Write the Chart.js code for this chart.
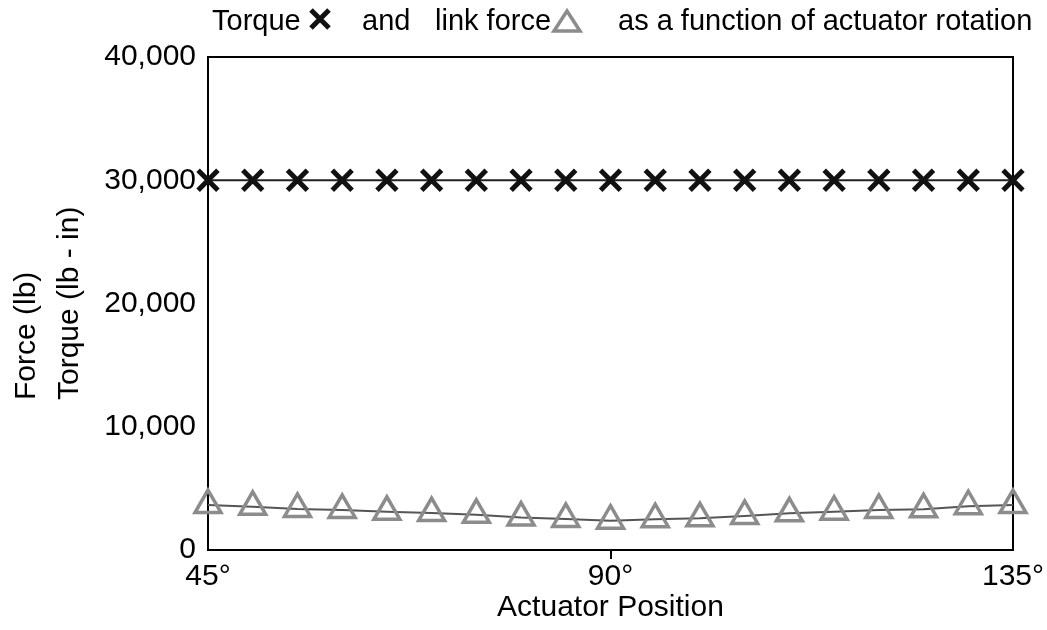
<!DOCTYPE html>
<html>
<head>
<meta charset="utf-8">
<script src="https://cdn.jsdelivr.net/npm/chart.js@4"></script>
<style>
  html, body { margin: 0; padding: 0; background: #fff; }
  #wrap { width: 1047px; height: 630px; }
</style>
</head>
<body>
<div id="wrap"><canvas id="chart"></canvas></div>
<script>
// actuator position in degrees
const positions = [45, 50, 55, 60, 65, 70, 75, 80, 85, 90, 95, 100, 105, 110, 115, 120, 125, 130, 135];
// torque (lb - in)
const torque = [30000, 30000, 30000, 30000, 30000, 30000, 30000, 30000, 30000, 30000,
                30000, 30000, 30000, 30000, 30000, 30000, 30000, 30000, 30000];
// link force (lb)
const linkForce = [3650, 3500, 3330, 3250, 3100, 3000, 2850, 2630, 2520, 2380,
                   2500, 2570, 2760, 2980, 3110, 3250, 3300, 3550, 3650];
const xTicks = [45, 90, 135];
const yTicks = [0, 10000, 20000, 30000, 40000];

const FONT = "'Liberation Sans', Arial, sans-serif";

// title line with the marker glyphs drawn inline
const titlePlugin = {
    id: "titleRuns",
    afterDraw(chart) {
        const c = chart.ctx;
        c.save();
        c.font = "29px " + FONT;
        c.textBaseline = "alphabetic";
        c.textAlign = "left";
        c.fillStyle = "#000";
        const y = 30;
        c.fillText("Torque", 212, y);
        c.strokeStyle = "#111";
        c.lineWidth = 5;
        c.beginPath();
        c.moveTo(311, 10); c.lineTo(329, 28);
        c.moveTo(329, 10); c.lineTo(311, 28);
        c.stroke();
        c.fillText("and", 362, y);
        c.fillText("link force", 435, y);
        c.strokeStyle = "#8c8c8c";
        c.lineWidth = 3.5;
        c.beginPath();
        c.moveTo(567, 11); c.lineTo(580, 31); c.lineTo(554, 31); c.closePath();
        c.stroke();
        c.fillText("as a function of actuator rotation", 618, y);

        // y axis title, two lines starting at the same height
        c.font = "30px " + FONT;
        [["Force (lb)", 35], ["Torque (lb - in)", 78]].forEach(([t, bx]) => {
            c.save();
            c.translate(bx, 400);
            c.rotate(-Math.PI / 2);
            c.fillText(t, 0, 0);
            c.restore();
        });
        c.restore();
    }
};

// closing box around the plot area
const boxPlugin = {
    id: "box",
    beforeDatasetsDraw(chart) {
        const a = chart.chartArea, c = chart.ctx;
        c.save();
        c.strokeStyle = "#000";
        c.lineWidth = 2;
        c.strokeRect(a.left, a.top, a.right - a.left, a.bottom - a.top);
        c.restore();
    }
};

new Chart(document.getElementById("chart"), {
    type: "line",
    data: {
        datasets: [
            {
                label: "Torque",
                data: positions.map((p, i) => ({ x: p, y: torque[i] })),
                borderColor: "#222",
                borderWidth: 2,
                pointStyle: "crossRot",
                pointRadius: 14,
                pointBorderWidth: 5,
                pointBorderColor: "#111",
                clip: false
            },
            {
                label: "Link force",
                data: positions.map((p, i) => ({ x: p, y: linkForce[i] })),
                borderColor: "#555",
                borderWidth: 2,
                pointStyle: "triangle",
                pointRadius: 15,
                pointBorderWidth: 3.5,
                pointBorderColor: "#8c8c8c",
                pointBackgroundColor: "rgba(255,255,255,0)",
                clip: false
            }
        ]
    },
    options: {
        responsive: true,
        maintainAspectRatio: false,
        animation: false,
        layout: { padding: { top: 57, right: 34, left: 0, bottom: 4 } },
        plugins: {
            legend: { display: false },
            tooltip: { enabled: false }
        },
        scales: {
            x: {
                type: "linear",
                min: 45,
                max: 135,
                afterBuildTicks: (axis) => { axis.ticks = xTicks.map(v => ({ value: v })); },
                afterFit: (axis) => { axis.height = 76; },
                ticks: {
                    color: "#000",
                    font: { family: FONT, size: 30 },
                    padding: 0,
                    maxRotation: 0,
                    callback: (v) => v + "°"
                },
                grid: {
                    display: true,
                    drawOnChartArea: false,
                    tickLength: 9,
                    lineWidth: 2,
                    color: (ctx) => (ctx.tick && ctx.tick.value === 90 ? "#000" : "rgba(0,0,0,0)")
                },
                border: { display: true, color: "#000", width: 2 },
                title: {
                    display: true,
                    text: "Actuator Position",
                    color: "#000",
                    font: { family: FONT, size: 30 },
                    padding: { top: 0, bottom: 0 }
                }
            },
            y: {
                min: 0,
                max: 40000,
                afterBuildTicks: (axis) => { axis.ticks = yTicks.map(v => ({ value: v })); },
                afterFit: (axis) => { axis.width = 208; },
                ticks: {
                    color: "#000",
                    font: { family: FONT, size: 30 },
                    padding: 12,
                    callback: (v) => v.toLocaleString("en-US")
                },
                grid: { display: true, drawOnChartArea: false, drawTicks: false },
                border: { display: true, color: "#000", width: 2 }
            }
        }
    },
    plugins: [titlePlugin, boxPlugin]
});
</script>
</body>
</html>
